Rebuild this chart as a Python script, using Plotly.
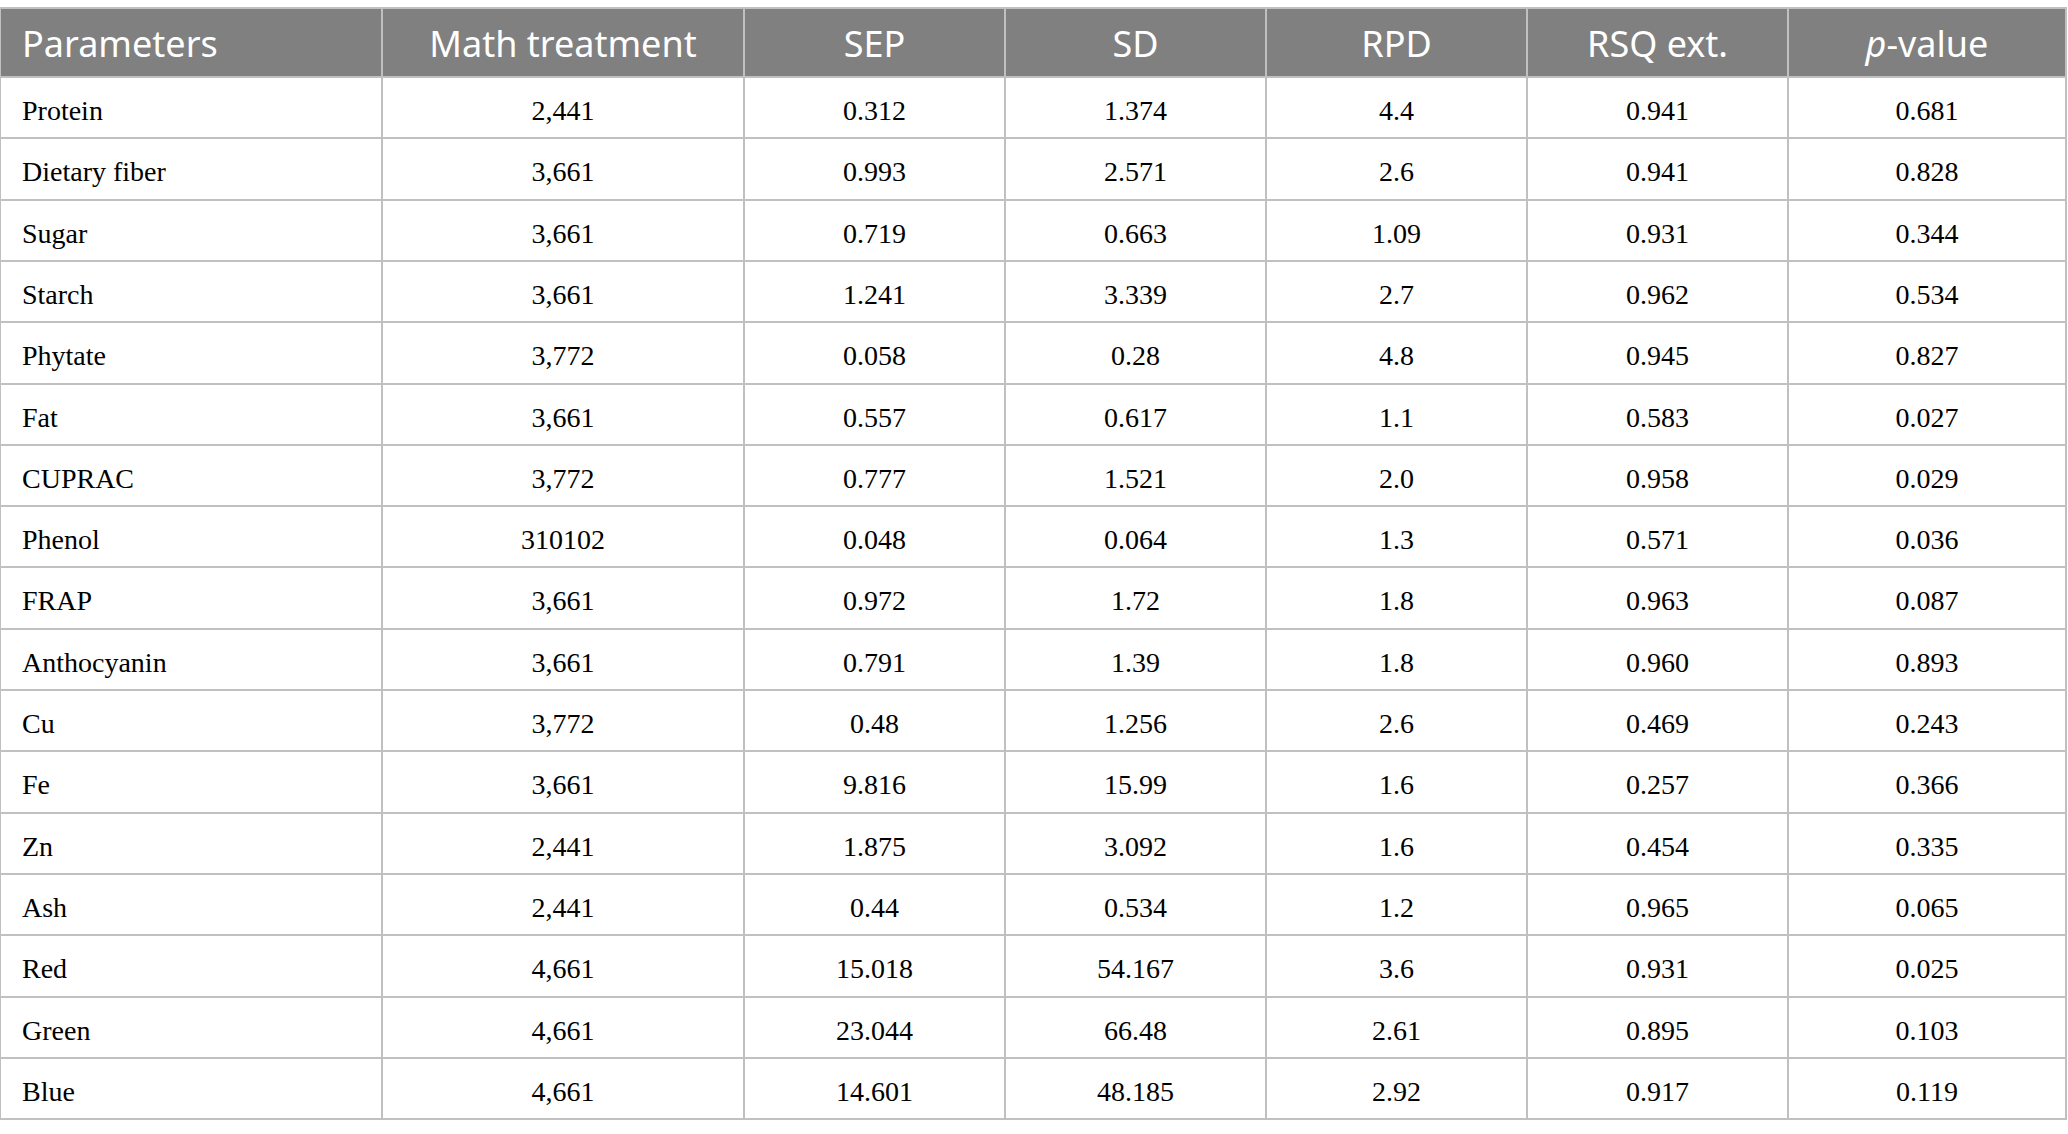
import plotly.graph_objects as go

columns = ["Parameters", "Math treatment", "SEP", "SD", "RPD", "RSQ ext.", "<i>p</i>-value"]
parameters = ["Protein", "Dietary fiber", "Sugar", "Starch", "Phytate", "Fat", "CUPRAC", "Phenol",
              "FRAP", "Anthocyanin", "Cu", "Fe", "Zn", "Ash", "Red", "Green", "Blue"]
math_treatment = ["2,441", "3,661", "3,661", "3,661", "3,772", "3,661", "3,772", "310102",
                  "3,661", "3,661", "3,772", "3,661", "2,441", "2,441", "4,661", "4,661", "4,661"]
sep = ["0.312", "0.993", "0.719", "1.241", "0.058", "0.557", "0.777", "0.048",
       "0.972", "0.791", "0.48", "9.816", "1.875", "0.44", "15.018", "23.044", "14.601"]
sd = ["1.374", "2.571", "0.663", "3.339", "0.28", "0.617", "1.521", "0.064",
      "1.72", "1.39", "1.256", "15.99", "3.092", "0.534", "54.167", "66.48", "48.185"]
rpd = ["4.4", "2.6", "1.09", "2.7", "4.8", "1.1", "2.0", "1.3",
       "1.8", "1.8", "2.6", "1.6", "1.6", "1.2", "3.6", "2.61", "2.92"]
rsq_ext = ["0.941", "0.941", "0.931", "0.962", "0.945", "0.583", "0.958", "0.571",
           "0.963", "0.960", "0.469", "0.257", "0.454", "0.965", "0.931", "0.895", "0.917"]
p_value = ["0.681", "0.828", "0.344", "0.534", "0.827", "0.027", "0.029", "0.036",
           "0.087", "0.893", "0.243", "0.366", "0.335", "0.065", "0.025", "0.103", "0.119"]

col_widths = [382, 362, 261, 261, 261, 261, 278]

NB = "\u00a0"
END = "<br>"  # a trailing break keeps plotly from auto-wrapping the markup
# invisible taller spacers, used to centre the text vertically in each row
SPACER = '<span style="font-size:39.5px">' + NB + '</span>'
HSPACER = '<span style="font-size:38.5px">' + NB + '</span>'
INDENT_HEAD = '<span style="font-size:27px">' + NB + NB + '</span>'

header_text = [INDENT_HEAD + columns[0] + HSPACER + END] + \
              [HSPACER + c + HSPACER + END for c in columns[1:]]

body_cols = [parameters, math_treatment, sep, sd, rpd, rsq_ext, p_value]
cell_text = [[NB + NB + v + SPACER + END for v in parameters]]
for col in body_cols[1:]:
    cell_text.append([SPACER + v + SPACER + END for v in col])

line_color = "#c0c0c0"

fig = go.Figure(go.Table(
    columnwidth=col_widths,
    header=dict(
        values=header_text,
        fill_color="#808080",
        line=dict(color=line_color, width=2),
        font=dict(family="Noto Sans", size=36, color="white"),
        align=["left"] + ["center"] * 6,
        height=69,
    ),
    cells=dict(
        values=cell_text,
        fill_color="white",
        line=dict(color=line_color, width=2),
        font=dict(family="Liberation Serif", size=28, color="black"),
        align=["left"] + ["center"] * 6,
        height=61.3,
    ),
    domain=dict(x=[0, 2066 / 2068], y=[0, 1 - 8 / 1134]),
))

fig.update_layout(
    width=2068, height=1134,
    margin=dict(l=0, r=0, t=0, b=0),
    paper_bgcolor="white",
)

fig.write_html(
    "out.html",
    config={"displayModeBar": False},
    post_script="document.body.style.margin='0';document.body.style.overflow='hidden';",
)
